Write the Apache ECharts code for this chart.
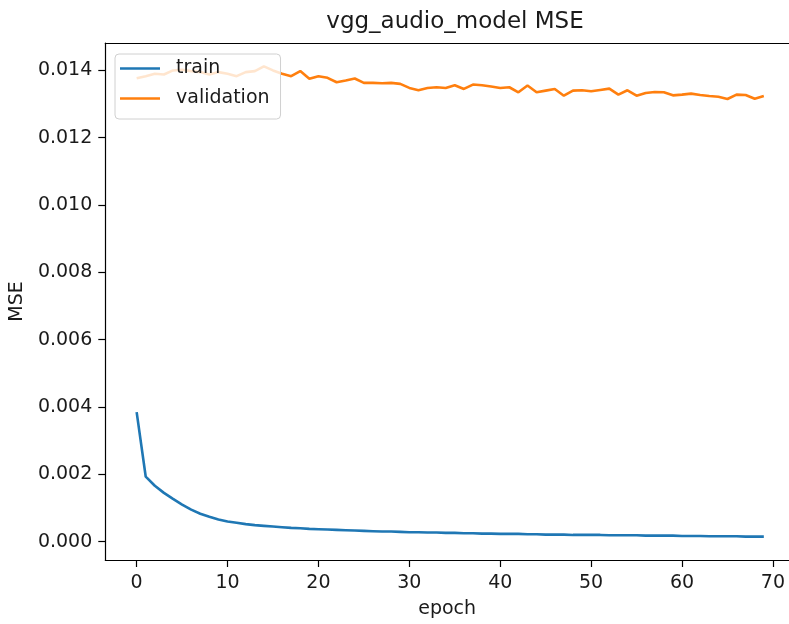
<!DOCTYPE html>
<html>
<head>
<meta charset="utf-8">
<script src="https://cdn.jsdelivr.net/npm/echarts@6/dist/echarts.min.js"></script>
<style>
html,body{margin:0;padding:0;background:#fff;}
#chart{width:789px;height:624px;}
</style>
</head>
<body>
<div id="chart"></div>
<script>
const epochs = Array.from({length: 70}, (_, i) => i);
const train = [
  0.00385, 0.00193, 0.00166, 0.00145, 0.00127, 0.00110, 0.00095, 0.00083, 0.00074, 0.00066,
  0.00060, 0.00056, 0.00052, 0.00049, 0.00047, 0.00045, 0.00043, 0.00041, 0.00040, 0.00038,
  0.00037, 0.00036, 0.00035, 0.00034, 0.00033, 0.00032, 0.00031, 0.00030, 0.00030, 0.00029,
  0.00028, 0.00028, 0.00027, 0.00027, 0.00026, 0.00026, 0.00025, 0.00025, 0.00024, 0.00024,
  0.00023, 0.00023, 0.00023, 0.00022, 0.00022, 0.00021, 0.00021, 0.00021, 0.00020, 0.00020,
  0.00020, 0.00020, 0.00019, 0.00019, 0.00019, 0.00019, 0.00018, 0.00018, 0.00018, 0.00018,
  0.00017, 0.00017, 0.00017, 0.00016, 0.00016, 0.00016, 0.00016, 0.00015, 0.00015, 0.00015
];
const validation = [
  0.01377, 0.01383, 0.01390, 0.01388, 0.01400, 0.01402, 0.01398, 0.01395, 0.01388, 0.01395,
  0.01390, 0.01383, 0.01395, 0.01398, 0.01412, 0.01400, 0.01390, 0.01383, 0.01398, 0.01375,
  0.01383, 0.01378, 0.01365, 0.01370, 0.01376, 0.01363, 0.01363, 0.01362, 0.01363, 0.01360,
  0.01348, 0.01341, 0.01348, 0.01350, 0.01348, 0.01356, 0.01345, 0.01358, 0.01356, 0.01352,
  0.01348, 0.01350, 0.01335, 0.01355, 0.01335, 0.01340, 0.01345, 0.01325, 0.01340, 0.01341,
  0.01338, 0.01342, 0.01346, 0.01328, 0.01341, 0.01325, 0.01333, 0.01336, 0.01335, 0.01326,
  0.01328, 0.01331, 0.01327, 0.01324, 0.01322, 0.01315, 0.01328, 0.01327, 0.01316, 0.01324
];
const xTicks = [0, 10, 20, 30, 40, 50, 60, 70];
const yTicks = [0.000, 0.002, 0.004, 0.006, 0.008, 0.010, 0.012, 0.014];

const FONT = 'DejaVu Sans';
const XMIN = -3.45, XMAX = 71.77;
const chart = echarts.init(document.getElementById('chart'), null, {renderer: 'canvas'});
chart.setOption({
  animation: false,
  backgroundColor: '#fff',
  title: {
    text: 'vgg_audio_model MSE',
    left: 450, textAlign: 'center', top: 6,
    textStyle: {fontFamily: FONT, fontSize: 23, fontWeight: 'normal', color: '#1a1a1a'}
  },
  legend: {
    orient: 'vertical', left: 115, top: 54,
    data: [{name: 'train', icon: 'rect'}, {name: 'validation', icon: 'rect'}],
    itemWidth: 40, itemHeight: 2.6, itemGap: 11,
    padding: [5, 11, 11, 5],
    backgroundColor: 'rgba(255,255,255,0.8)',
    borderColor: '#d0d0d0', borderWidth: 1, borderRadius: 4,
    textStyle: {fontFamily: FONT, fontSize: 19, color: '#1a1a1a', padding: [0, 0, 0, 11]}
  },
  grid: {left: 105, top: 43, right: 0, bottom: 62, show: false},
  xAxis: [{
    type: 'value', min: XMIN, max: XMAX,
    name: 'epoch', nameLocation: 'middle', nameGap: 40,
    nameTextStyle: {fontFamily: FONT, fontSize: 19, color: '#1a1a1a'},
    axisLine: {show: true, onZero: false, lineStyle: {color: '#000', width: 1.2}},
    axisTick: {show: true, length: 7, lineStyle: {color: '#000', width: 1.2}, customValues: xTicks},
    axisLabel: {fontFamily: FONT, fontSize: 19, color: '#1a1a1a', margin: 14, customValues: xTicks, formatter: v => String(Math.round(v))},
    splitLine: {show: false}
  }, {
    type: 'value', position: 'top', min: XMIN, max: XMAX,
    axisLine: {show: true, onZero: false, lineStyle: {color: '#000', width: 1.2}},
    axisTick: {show: false}, axisLabel: {show: false}, splitLine: {show: false}
  }],
  yAxis: {
    type: 'value', min: -0.000545, max: 0.014815,
    name: 'MSE', nameLocation: 'middle', nameGap: 78,
    nameTextStyle: {fontFamily: FONT, fontSize: 19, color: '#1a1a1a'},
    axisLine: {show: true, onZero: false, lineStyle: {color: '#000', width: 1.2}},
    axisTick: {show: true, length: 7, lineStyle: {color: '#000', width: 1.2}, customValues: yTicks},
    axisLabel: {fontFamily: FONT, fontSize: 19, color: '#1a1a1a', margin: 13, customValues: yTicks, formatter: v => v.toFixed(3)},
    splitLine: {show: false}
  },
  series: [
    {name: 'train', type: 'line', data: epochs.map((e, i) => [e, train[i]]), showSymbol: false, symbol: 'none',
     lineStyle: {color: '#1f77b4', width: 2.6}, itemStyle: {color: '#1f77b4'}},
    {name: 'validation', type: 'line', data: epochs.map((e, i) => [e, validation[i]]), showSymbol: false, symbol: 'none',
     lineStyle: {color: '#ff7f0e', width: 2.6}, itemStyle: {color: '#ff7f0e'}}
  ]
});
</script>
</body>
</html>
